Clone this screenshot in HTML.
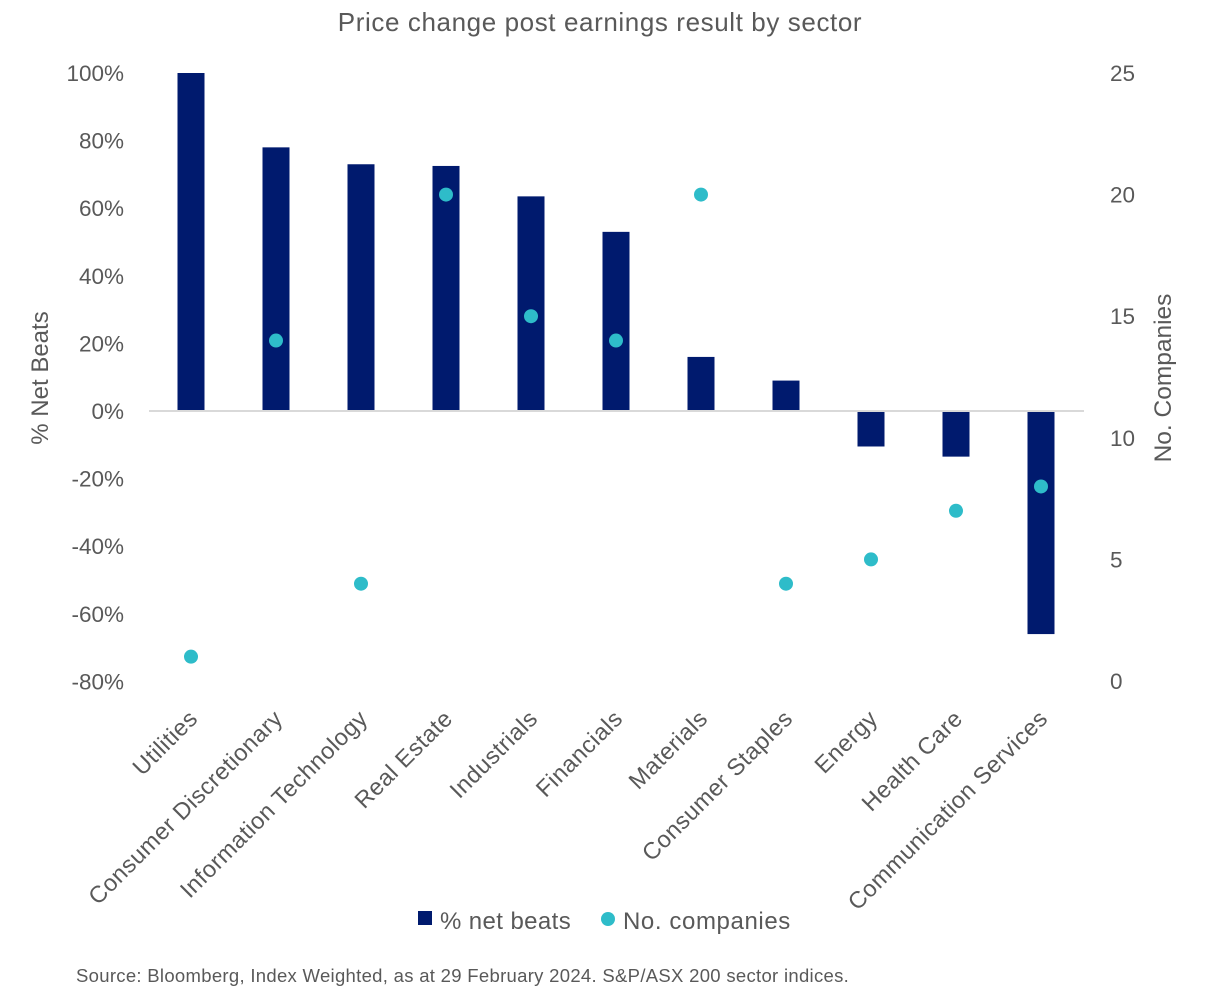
<!DOCTYPE html>
<html><head><meta charset="utf-8"><style>
body{margin:0;background:#fff;}
svg text{font-family:"Liberation Sans",sans-serif;fill:#595959;}
</style></head><body>
<svg width="1222" height="995" viewBox="0 0 1222 995" id="chart">
<text x="600" y="31" text-anchor="middle" font-size="26" letter-spacing="0.6">Price change post earnings result by sector</text>
<text transform="translate(48,378) rotate(-90)" text-anchor="middle" font-size="24">% Net Beats</text>
<text transform="translate(1171,378) rotate(-90)" text-anchor="middle" font-size="24.5">No. Companies</text>
<g id="g"></g>
<rect x="418" y="911" width="14" height="14" fill="#001a6e"/>
<text x="440" y="929" font-size="24" letter-spacing="0.4">% net beats</text>
<circle cx="608" cy="919" r="7" fill="#2ebcc9"/>
<text x="623" y="929" font-size="24" letter-spacing="0.6">No. companies</text>
<text x="76" y="982" font-size="18.5" letter-spacing="0.3">Source: Bloomberg, Index Weighted, as at 29 February 2024. S&amp;P/ASX 200 sector indices.</text>
</svg>
<script>
const categories=["Utilities","Consumer Discretionary","Information Technology","Real Estate","Industrials","Financials","Materials","Consumer Staples","Energy","Health Care","Communication Services"];
const netBeats=[100,78,73,72.5,63.5,53,16,9,-10.5,-13.5,-66];
const companies=[1,14,4,20,15,14,20,4,5,7,8];
const leftTicks=[100,80,60,40,20,0,-20,-40,-60,-80];
const rightTicks=[25,20,15,10,5,0];
const NS="http://www.w3.org/2000/svg";
const g=document.getElementById('g');
const yL=v=>411-(v)*(411-73)/100;
const yR=v=>681-v*(681-73)/25;
const xC=i=>191+i*85;
function mk(t,a){const e=document.createElementNS(NS,t);for(const k in a)e.setAttribute(k,a[k]);g.appendChild(e);return e;}
leftTicks.forEach(v=>{const t=mk('text',{x:124,y:yL(v)+8,'text-anchor':'end','font-size':22.5});t.textContent=v+'%';

});
rightTicks.forEach(v=>{const t=mk('text',{x:1110,y:yR(v)+8,'font-size':22.5});t.textContent=v;

});
netBeats.forEach((v,i)=>{const y0=yL(0),y1=yL(v);const r=mk('rect',{x:xC(i)-13.5,y:Math.min(y0,y1),width:27,height:Math.abs(y1-y0),fill:'#001a6e'});

});
const ax=mk('line',{x1:149,x2:1084,y1:yL(0),y2:yL(0),stroke:'#d9d9d9','stroke-width':2});


companies.forEach((v,i)=>{const c=mk('circle',{cx:xC(i),cy:yR(v),r:7,fill:'#2ebcc9'});

});
categories.forEach((n,i)=>{const t=mk('text',{transform:`translate(${xC(i)+8},${720}) rotate(-45)`,'text-anchor':'end','font-size':23.5,'letter-spacing':0.5});t.textContent=n;

});
</script>
</body></html>
